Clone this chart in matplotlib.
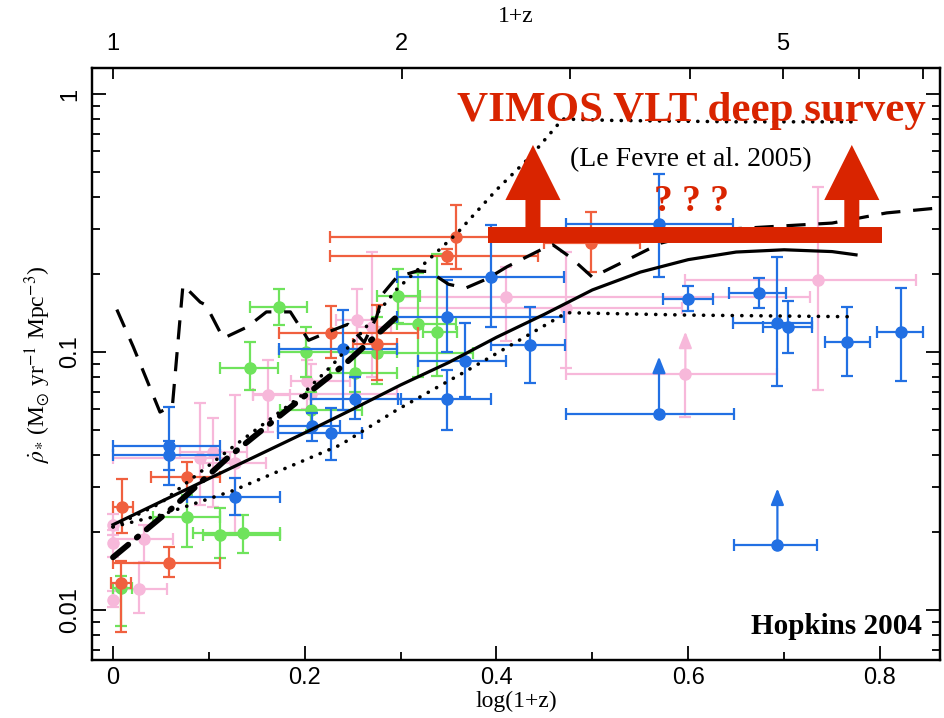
import numpy as np
import matplotlib
matplotlib.use("Agg")
import matplotlib.pyplot as plt
from matplotlib.patches import FancyArrow

plt.rcParams['font.family'] = ['Liberation Serif', 'DejaVu Serif']
plt.rcParams['mathtext.fontset'] = 'stix'

RED = '#F0603F'
PINK = '#F7B8DA'
GREEN = '#6FE35C'
BLUE = '#2270E3'
BIG_RED = '#D92400'

# ---- data points: x, y, x-low, x-high, y-low, y-high ----
red_x = [0.009, 0.008, 0.0587, 0.077, 0.227, 0.275, 0.358, 0.348, 0.499]
red_y = [0.0251, 0.0127, 0.0152, 0.0327, 0.118, 0.1074, 0.28, 0.235, 0.264]
red_xlo = [0.0, -0.002, 0.0, 0.0396, 0.1735, 0.25, 0.226, 0.226, 0.45]
red_xhi = [0.021, 0.019, 0.1116, 0.1116, 0.318, 0.296, 0.435, 0.443, 0.55]
red_ylo = [0.0199, 0.0082, 0.0134, 0.0288, 0.095, 0.078, 0.21, 0.22, 0.205]
red_yhi = [0.0321, 0.0155, 0.0175, 0.0376, 0.1507, 0.152, 0.37, 0.25, 0.35]

pink_x = [0.0, 0.0, 0.0, 0.032, 0.0275, 0.091, 0.1046, 0.127, 0.162, 0.202,
          0.207, 0.254, 0.27, 0.41, 0.473, 0.735]
pink_y = [0.0214, 0.0182, 0.0109, 0.0188, 0.0121, 0.0387, 0.041, 0.037, 0.068, 0.077,
          0.069, 0.133, 0.125, 0.164, 0.1475, 0.19]
pink_xlo = [0.0, 0.0, 0.0, 0.0, 0.0, 0.0, 0.07, 0.094, 0.146, 0.186,
            0.146, 0.233, 0.255, 0.296, 0.297, 0.597]
pink_xhi = [0.0, 0.0, 0.0, 0.063, 0.056, 0.122, 0.14, 0.16, 0.185, 0.247,
            0.296, 0.275, 0.29, 0.727, 0.594, 0.838]
pink_ylo = [0.0195, 0.016, 0.0103, 0.0154, 0.0097, 0.0255, 0.0251, 0.0198, 0.049, 0.06,
            0.05, 0.10, 0.08, 0.11, 0.0866, 0.0713]
pink_yhi = [0.0235, 0.0205, 0.0118, 0.0213, 0.0152, 0.0635, 0.0555, 0.068, 0.093, 0.093,
            0.09, 0.176, 0.245, 0.214, 0.245, 0.437]

green_x = [0.008, 0.077, 0.1116, 0.136, 0.143, 0.1735, 0.201, 0.207, 0.252, 0.275,
           0.2976, 0.3185, 0.338]
green_y = [0.0122, 0.023, 0.0196, 0.0198, 0.0865, 0.150, 0.100, 0.0596, 0.083, 0.099,
           0.165, 0.1285, 0.12]
green_xlo = [0.0, 0.042, 0.094, 0.0834, 0.1116, 0.143, 0.173, 0.174, 0.226, 0.25,
             0.275, 0.296, 0.323]
green_xhi = [0.02, 0.112, 0.174, 0.174, 0.172, 0.202, 0.296, 0.26, 0.296, 0.376,
             0.32, 0.358, 0.359]
green_ylo = [0.0087, 0.0176, 0.0159, 0.0166, 0.0713, 0.127, 0.08, 0.05, 0.07, 0.075,
             0.13, 0.08, 0.081]
green_yhi = [0.0135, 0.028, 0.0249, 0.0233, 0.1096, 0.176, 0.125, 0.07, 0.10, 0.137,
             0.21, 0.202, 0.24]

blue_x = [0.0584, 0.0584, 0.127, 0.208, 0.227, 0.24, 0.252, 0.348, 0.394, 0.367,
          0.435, 0.348, 0.569, 0.600, 0.674, 0.693, 0.704, 0.766, 0.822]
blue_y = [0.0433, 0.040, 0.0275, 0.0518, 0.0484, 0.103, 0.0656, 0.137, 0.195, 0.0925,
          0.106, 0.0656, 0.313, 0.16, 0.17, 0.130, 0.1247, 0.109, 0.12]
blue_xlo = [0.0, 0.0, 0.077, 0.172, 0.172, 0.173, 0.207, 0.296, 0.296, 0.318,
            0.394, 0.297, 0.473, 0.574, 0.642, 0.647, 0.678, 0.743, 0.797]
blue_xhi = [0.112, 0.112, 0.174, 0.237, 0.26, 0.296, 0.30, 0.47, 0.47, 0.41,
            0.471, 0.394, 0.647, 0.626, 0.702, 0.729, 0.729, 0.79, 0.845]
blue_ylo = [0.0305, 0.035, 0.0233, 0.045, 0.0381, 0.0596, 0.055, 0.10, 0.125, 0.067,
            0.0757, 0.05, 0.195, 0.144, 0.1475, 0.0738, 0.0994, 0.081, 0.0772]
blue_yhi = [0.0614, 0.045, 0.0325, 0.058, 0.0606, 0.145, 0.08, 0.19, 0.31, 0.129,
            0.15, 0.085, 0.49, 0.18, 0.194, 0.233, 0.157, 0.15, 0.177]

# lower limits (arrows pointing up)
lim_blue_x = [0.5695, 0.693]
lim_blue_y = [0.0573, 0.0179]
lim_blue_xlo = [0.4725, 0.648]
lim_blue_xhi = [0.648, 0.734]
lim_blue_top = [0.096, 0.0296]

lim_pink_x = [0.597]
lim_pink_y = [0.082]
lim_pink_xlo = [0.4725]
lim_pink_xhi = [0.693]
lim_pink_ylo = [0.056]
lim_pink_top = [0.12]

# ---- model curves ----
solid_x = [0.0, 0.05, 0.1, 0.15, 0.2, 0.25, 0.3, 0.35, 0.4, 0.45, 0.5, 0.55,
           0.6, 0.65, 0.7, 0.75, 0.775]
solid_y = [0.0214, 0.0263, 0.0323, 0.0396, 0.0486, 0.060, 0.0745, 0.091, 0.114,
           0.140, 0.174, 0.204, 0.228, 0.244, 0.249, 0.245, 0.238]

updot_x = [0.0, 0.05, 0.09, 0.1255, 0.195, 0.23, 0.26, 0.296, 0.359, 0.40, 0.435,
           0.469, 0.52, 0.65, 0.772]
updot_y = [0.021, 0.026, 0.034, 0.043, 0.067, 0.09, 0.12, 0.175, 0.289, 0.425, 0.57,
           0.80, 0.79, 0.78, 0.78]

lodot_x = [0.0, 0.049, 0.125, 0.237, 0.296, 0.37, 0.442, 0.473, 0.6, 0.77]
lodot_y = [0.021, 0.0233, 0.029, 0.0436, 0.0596, 0.085, 0.1216, 0.142, 0.139, 0.137]

dashdot_x = [0.0, 0.06, 0.12, 0.18, 0.24, 0.296]
dashdot_y = [0.016, 0.0245, 0.039, 0.059, 0.0885, 0.137]

dash_x = [0.004, 0.021, 0.049, 0.062, 0.073, 0.091, 0.097, 0.115, 0.14, 0.16, 0.185,
          0.204, 0.228, 0.245, 0.262, 0.275, 0.282, 0.296, 0.317, 0.33, 0.35, 0.368,
          0.39, 0.411, 0.45, 0.459, 0.477, 0.5, 0.536, 0.571, 0.626, 0.75, 0.807, 0.862]
dash_y = [0.146, 0.105, 0.0585, 0.062, 0.182, 0.156, 0.152, 0.113, 0.125, 0.143, 0.143,
          0.111, 0.121, 0.128, 0.109, 0.137, 0.169, 0.195, 0.206, 0.205, 0.183, 0.177,
          0.192, 0.214, 0.253, 0.26, 0.233, 0.195, 0.227, 0.264, 0.297, 0.316, 0.346, 0.362]

# survey annotation
survey_x = [0.391, 0.802]
survey_y = 0.284

top_ticks = [1, 2, 3, 4, 5, 6, 7]
top_labels = ['1', '2', '', '', '5', '', '']

TICK_FONT = ['Liberation Sans Narrow', 'Liberation Sans', 'DejaVu Sans']

fig = plt.figure(figsize=(9.45, 7.18), dpi=100)
ax = fig.add_axes([92 / 945, 58 / 718, 848 / 945, 592 / 718])


def draw_points(xs, ys, xlo, xhi, ylo, yhi, color, z):
    xs = np.array(xs); ys = np.array(ys)
    xerr = [xs - np.array(xlo), np.array(xhi) - xs]
    yerr = [ys - np.array(ylo), np.array(yhi) - ys]
    ax.errorbar(xs, ys, xerr=xerr, yerr=yerr, fmt='o', color=color, ms=8,
                elinewidth=1.6, capsize=4.5, capthick=1.6, zorder=z)


draw_points(pink_x, pink_y, pink_xlo, pink_xhi, pink_ylo, pink_yhi, PINK, 2)
draw_points(green_x, green_y, green_xlo, green_xhi, green_ylo, green_yhi, GREEN, 2.1)
draw_points(red_x, red_y, red_xlo, red_xhi, red_ylo, red_yhi, RED, 2.2)
draw_points(blue_x, blue_y, blue_xlo, blue_xhi, blue_ylo, blue_yhi, BLUE, 2.3)

# lower limits
lx = np.array(lim_blue_x); ly = np.array(lim_blue_y)
ax.errorbar(lx, ly, xerr=[lx - np.array(lim_blue_xlo), np.array(lim_blue_xhi) - lx],
            fmt='o', color=BLUE, ms=8, elinewidth=1.6, capsize=4.5, capthick=1.6, zorder=2.3)
for x0, y0, yt in zip(lim_blue_x, lim_blue_y, lim_blue_top):
    ax.annotate('', xy=(x0, yt), xytext=(x0, y0),
                arrowprops=dict(arrowstyle='-|>,head_length=0.7,head_width=0.28',
                                color=BLUE, lw=1.6, shrinkA=0, shrinkB=0,
                                mutation_scale=14), zorder=2.3)
px = np.array(lim_pink_x); py = np.array(lim_pink_y)
ax.errorbar(px, py, xerr=[px - np.array(lim_pink_xlo), np.array(lim_pink_xhi) - px],
            yerr=[py - np.array(lim_pink_ylo), np.zeros(len(px))],
            fmt='o', color=PINK, ms=8, elinewidth=1.6, capsize=4.5, capthick=1.6, zorder=2)
for x0, y0, yt in zip(lim_pink_x, lim_pink_y, lim_pink_top):
    ax.annotate('', xy=(x0, yt), xytext=(x0, y0),
                arrowprops=dict(arrowstyle='-|>,head_length=0.7,head_width=0.28',
                                color=PINK, lw=1.6, shrinkA=0, shrinkB=0,
                                mutation_scale=14), zorder=2)

# model curves
ax.plot(solid_x, solid_y, color='k', lw=2.3, zorder=4)
ax.plot(updot_x, updot_y, color='k', lw=2.6, ls=(0, (0.05, 2.6)),
        dash_capstyle='round', zorder=4)
ax.plot(lodot_x, lodot_y, color='k', lw=2.6, ls=(0, (0.05, 2.6)),
        dash_capstyle='round', zorder=4)
ax.plot(dashdot_x, dashdot_y, color='k', lw=4.2, ls=(0, (3.4, 1.9, 0.3, 1.9)),
        dash_capstyle='round', zorder=4)
ax.plot(dash_x, dash_y, color='k', lw=2.3, ls=(0, (6, 4)), zorder=4)

ax.set_yscale('log')
ax.set_xlim(-0.0219, 0.8626)
ax.set_ylim(0.0064, 1.261)

# survey annotation
ax.plot(survey_x, [survey_y, survey_y], color=BIG_RED, lw=11.5,
        solid_capstyle='butt', zorder=10)
for xa in (0.520, 0.896):
    ax.add_patch(FancyArrow(xa, 0.718, 0, 0.152, width=0.0177, head_width=0.065,
                            head_length=0.093, length_includes_head=True,
                            color=BIG_RED, lw=0, transform=ax.transAxes, zorder=10))
ax.text(0.707, 0.928, 'VIMOS VLT deep survey', transform=ax.transAxes, color=BIG_RED,
        fontsize=31, fontweight='bold', ha='center', va='center', zorder=11)
ax.text(0.706, 0.845, '(Le Fevre et al. 2005)', transform=ax.transAxes, color='k',
        fontsize=20, ha='center', va='center', zorder=11)
ax.text(0.707, 0.775, '? ? ?', transform=ax.transAxes, color=BIG_RED,
        fontsize=27, fontweight='bold', ha='center', va='center', zorder=11)
ax.text(0.979, 0.056, 'Hopkins 2004', transform=ax.transAxes, color='k',
        fontsize=21, fontweight='bold', ha='right', va='center', zorder=11)

# ticks
ax.set_xticks([0, 0.2, 0.4, 0.6, 0.8])
ax.set_xticklabels(['0', '0.2', '0.4', '0.6', '0.8'])
ax.set_xticks([0.1, 0.3, 0.5, 0.7], minor=True)
ax.tick_params(which='both', direction='in', right=True, width=1.3)
ax.tick_params(which='major', length=10, labelsize=17)
ax.tick_params(which='minor', length=6)
ax.tick_params(axis='x', pad=5)
ax.tick_params(axis='y', pad=8)
ax.set_yticks([0.01, 0.1, 1])
ax.set_yticklabels(['0.01', '0.1', '1'])
for lab in ax.get_yticklabels():
    lab.set_rotation(90)
    lab.set_va('center')
for lab in ax.get_xticklabels() + ax.get_yticklabels():
    lab.set_family(TICK_FONT)
for sp in ax.spines.values():
    sp.set_linewidth(1.6)

ax.set_xlabel('log(1+z)', fontsize=17, labelpad=1)
ax.set_ylabel(r'$\dot{\rho}_{*}$ (M$_{\odot}$ yr$^{-1}$ Mpc$^{-3}$)', fontsize=17, labelpad=4)

ax2 = ax.twiny()
ax2.set_xlim(ax.get_xlim())
ax2.set_xticks(np.log10(top_ticks))
ax2.set_xticklabels(top_labels)
ax2.tick_params(direction='in', length=8, width=1.3, labelsize=17, pad=9)
for lab in ax2.get_xticklabels():
    lab.set_family(TICK_FONT)
ax2.set_xlabel('1+z', fontsize=17, labelpad=8)
for sp in ax2.spines.values():
    sp.set_linewidth(1.6)

fig.savefig('out.png', dpi=100)
